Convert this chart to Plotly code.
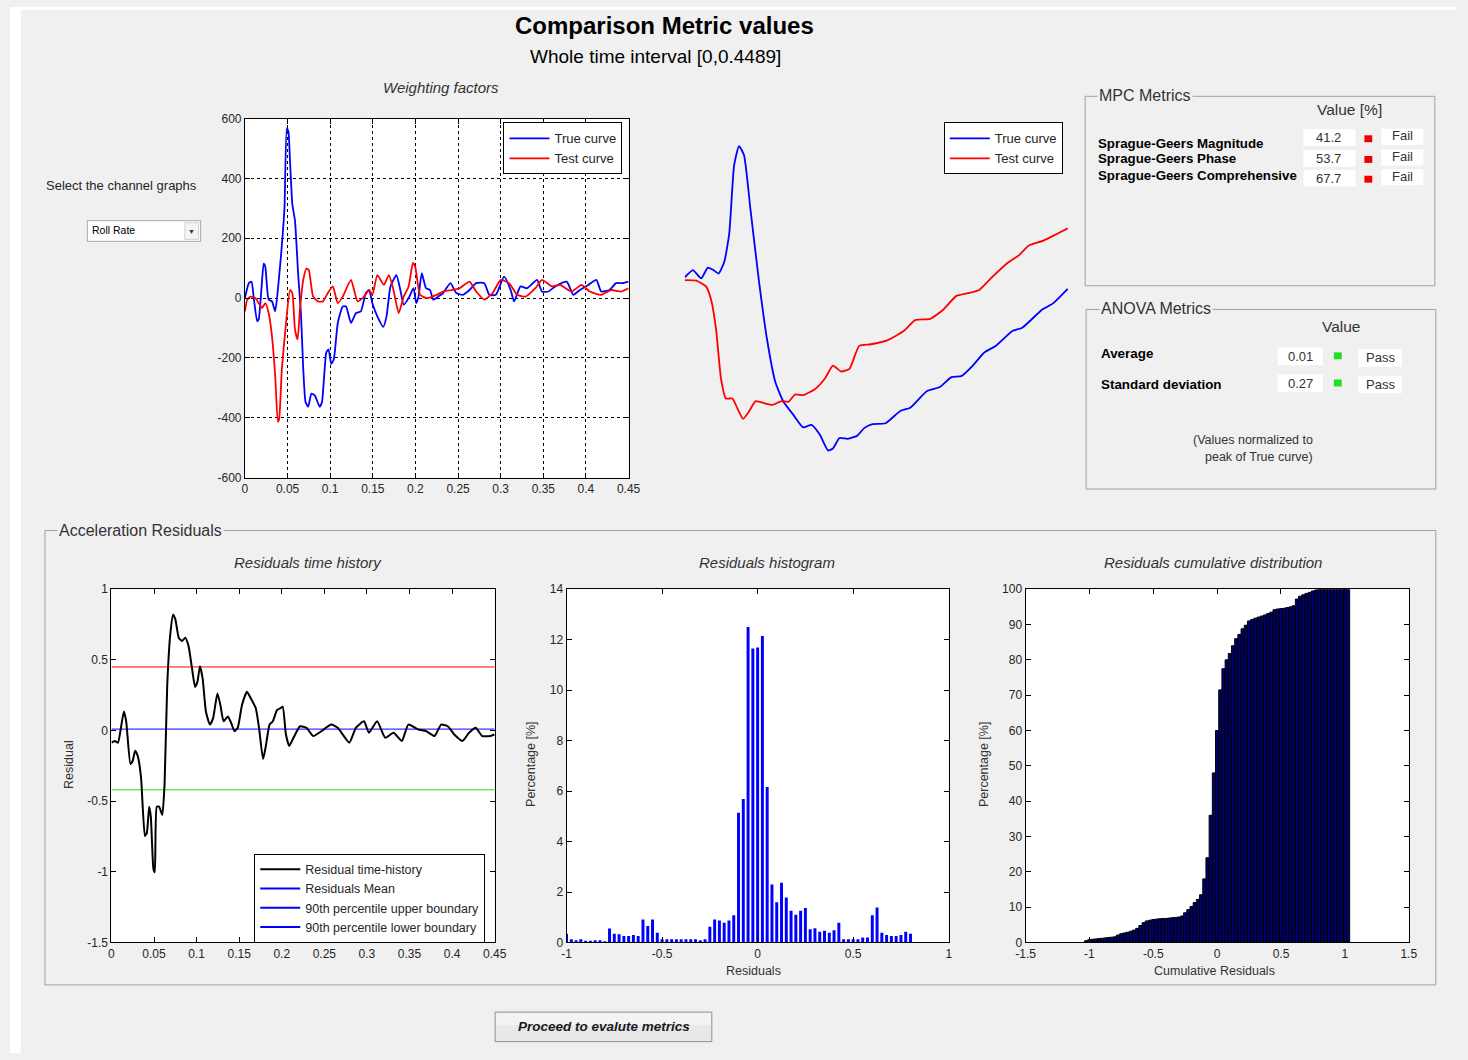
import plotly.graph_objects as go

# ------------------------------------------------------------------ data
# Top-left: Roll rate time histories (Weighting factors)
TRUE_T = [0, 0.0046, 0.0077, 0.0104, 0.0143, 0.0162, 0.0193, 0.022, 0.0239, 0.0278,
          0.0317, 0.0355, 0.0386, 0.0425, 0.0464, 0.0491, 0.051, 0.0529, 0.0556, 0.0587,
          0.0626, 0.0657, 0.0684, 0.0711, 0.0742, 0.078, 0.0819, 0.0877, 0.0904, 0.0954,
          0.0981, 0.1012, 0.1043, 0.1089, 0.1147, 0.1186, 0.1244, 0.1302, 0.136, 0.1418,
          0.1456, 0.1495, 0.1553, 0.1622, 0.1661, 0.1707, 0.1777, 0.1823, 0.1862, 0.192,
          0.1978, 0.2009, 0.2036, 0.2074, 0.2124, 0.2171, 0.2209, 0.2267, 0.2325, 0.241,
          0.248, 0.2557, 0.2634, 0.2712, 0.2808, 0.2866, 0.2943, 0.304, 0.3117, 0.3156,
          0.3233, 0.331, 0.3426, 0.3484, 0.3561, 0.3639, 0.3774, 0.3851, 0.3928, 0.4025,
          0.4122, 0.4179, 0.4276, 0.4353, 0.4431, 0.45]
TRUE_V = [0, 50, 55, 0, -77, -70, 27, 115, 105, -5,
          -11, -44, 27, 148, 302, 567, 556, 457, 314, 259,
          72, -50, -237, -347, -363, -319, -325, -363, -347, -182,
          -171, -220, -204, -83, -28, -28, -83, -50, -44, 17,
          27, -17, -61, -96, -61, 39, 77, 27, -22, 0,
          33, -17, 5, 83, 33, 27, -5, 5, 17, 50,
          17, 11, 27, 50, 50, 11, 11, 72, 27, -11,
          39, 33, 61, 22, 22, 39, 55, 11, 27, 44,
          61, 22, 27, 50, 50, 55]
TEST_T = [0, 0.0027, 0.0066, 0.0124, 0.0162, 0.0201, 0.0239, 0.0278, 0.0317, 0.0355,
          0.0386, 0.0402, 0.0433, 0.0471, 0.0529, 0.0556, 0.0587, 0.0618, 0.0645, 0.0684,
          0.0722, 0.0749, 0.08, 0.0858, 0.0915, 0.0973, 0.1031, 0.1089, 0.1147, 0.1244,
          0.1321, 0.1398, 0.1456, 0.1495, 0.1553, 0.163, 0.1688, 0.1738, 0.1804, 0.1862,
          0.192, 0.197, 0.1997, 0.2055, 0.2132, 0.2248, 0.2325, 0.2422, 0.2519, 0.2634,
          0.2712, 0.2808, 0.2905, 0.3001, 0.3098, 0.3194, 0.3291, 0.3407, 0.3484, 0.36,
          0.3697, 0.3832, 0.3948, 0.4044, 0.4179, 0.4295, 0.4411, 0.45]
TEST_V = [-44, -5, 5, 0, -17, -33, -17, -50, -127, -259,
          -413, -402, -237, -116, 27, 17, -105, -138, -39, 61,
          99, 94, 5, -11, -11, 17, 39, -17, 5, 61,
          -11, 5, 27, 11, 77, 44, 77, 33, -50, 5,
          39, 118, 105, 11, 0, 11, 22, 27, 33, 55,
          22, -5, 17, 61, 50, 11, 5, 33, 61, 39,
          44, 22, 44, 22, 11, 27, 22, 33]

# Top-middle: integrated curves (normalised to peak of True curve)
INT_TRUE_T = [0, 0.0096, 0.0193, 0.027, 0.0327, 0.0397, 0.0463, 0.0521, 0.0579, 0.0636,
              0.0694, 0.0772, 0.0868, 0.0964, 0.1061, 0.1157, 0.1273, 0.1388, 0.1485, 0.1582,
              0.1678, 0.1736, 0.1813, 0.1909, 0.2025, 0.2102, 0.2198, 0.2352, 0.2526, 0.2641,
              0.2835, 0.2989, 0.3124, 0.324, 0.3375, 0.3509, 0.3645, 0.3838, 0.3954, 0.4185,
              0.4319, 0.4486]
INT_TRUE_V = [0.007, 0.062, 0.0, 0.082, 0.067, 0.037, 0.125, 0.336, 0.858, 1.0,
              0.933, 0.51, -0.013, -0.46, -0.784, -0.933, -1.032, -1.127, -1.107, -1.181,
              -1.301, -1.286, -1.207, -1.214, -1.187, -1.132, -1.102, -1.095, -1.002, -0.978,
              -0.853, -0.821, -0.746, -0.739, -0.659, -0.56, -0.51, -0.398, -0.373, -0.237,
              -0.187, -0.08]
INT_TEST_T = [0, 0.0135, 0.0251, 0.0309, 0.0367, 0.0425, 0.0482, 0.0559, 0.0617, 0.0683,
              0.0752, 0.083, 0.0945, 0.1022, 0.1137, 0.1215, 0.1292, 0.1388, 0.1524, 0.164,
              0.1736, 0.1832, 0.1929, 0.2044, 0.2179, 0.2372, 0.2565, 0.2699, 0.2873, 0.3028,
              0.3182, 0.3317, 0.3451, 0.3606, 0.378, 0.3914, 0.403, 0.4203, 0.4358, 0.4486]
INT_TEST_V = [-0.013, -0.017, -0.062, -0.162, -0.386, -0.759, -0.908, -0.908, -0.983, -1.062,
              -1.007, -0.928, -0.946, -0.957, -0.928, -0.933, -0.878, -0.883, -0.838, -0.759,
              -0.659, -0.704, -0.684, -0.51, -0.498, -0.468, -0.398, -0.316, -0.306, -0.237,
              -0.132, -0.112, -0.087, 0.013, 0.117, 0.174, 0.249, 0.286, 0.336, 0.378]

# Residual time history
RES_T = [0, 0.0039, 0.0077, 0.0108, 0.0146, 0.0173, 0.0223, 0.025, 0.0277, 0.0308,
         0.0347, 0.0393, 0.0416, 0.0443, 0.0462, 0.0493, 0.0509, 0.0532, 0.0559, 0.0597,
         0.0624, 0.0655, 0.0693, 0.0724, 0.0751, 0.079, 0.0828, 0.0867, 0.0905, 0.0944,
         0.0982, 0.1009, 0.104, 0.1071, 0.1109, 0.1156, 0.1194, 0.1244, 0.1279, 0.1317,
         0.1367, 0.1406, 0.1445, 0.1483, 0.1533, 0.1591, 0.1637, 0.1695, 0.1733, 0.178,
         0.181, 0.1857, 0.1895, 0.1945, 0.1984, 0.2011, 0.2049, 0.2088, 0.2138, 0.2215,
         0.2292, 0.2369, 0.2465, 0.2581, 0.2658, 0.2793, 0.287, 0.2966, 0.3024, 0.312,
         0.3216, 0.3313, 0.341, 0.3487, 0.3602, 0.3698, 0.3794, 0.3872, 0.3949, 0.4026,
         0.4122, 0.42, 0.4277, 0.4354, 0.445, 0.45]
RES_V = [-0.086, -0.074, -0.086, 0.007, 0.135, 0.065, -0.237, -0.214, -0.144, -0.179,
         -0.33, -0.747, -0.724, -0.539, -0.608, -0.98, -1.003, -0.539, -0.539, -0.597,
         -0.376, 0.32, 0.694, 0.819, 0.786, 0.657, 0.634, 0.657, 0.599, 0.448,
         0.309, 0.344, 0.455, 0.367, 0.135, 0.042, 0.088, 0.262, 0.181, 0.065,
         0.1, 0.053, -0.005, 0.019, 0.181, 0.274, 0.227, 0.158, 0.019, -0.202,
         -0.121, 0.042, 0.065, 0.146, 0.158, 0.169, -0.028, -0.109, -0.051, 0.03,
         0.019, -0.039, -0.005, 0.042, 0.019, -0.086, 0.019, 0.065, -0.016, 0.065,
         -0.051, -0.016, -0.074, 0.042, 0.007, -0.005, -0.039, 0.042, 0.03, -0.028,
         -0.074, -0.016, 0.019, -0.039, -0.039, -0.028]
RES_MEAN = 0.01
RES_UPPER = 0.45
RES_LOWER = -0.42
TIME_END = 0.45

# Residual histogram (bins of 0.025 starting at -1)
HIST_START, HIST_STEP = -1.0, 0.025
HIST_PCT = [0.35, 0.13, 0.09, 0.13, 0.07, 0.07, 0.09, 0.09, 0.04, 0.55,
            0.35, 0.33, 0.26, 0.26, 0.3, 0.26, 0.91, 0.65, 0.91, 0.39,
            0.13, 0.13, 0.13, 0.13, 0.13, 0.13, 0.13, 0.13, 0.09, 0.13,
            0.62, 0.91, 0.87, 0.78, 0.87, 1.08, 5.14, 5.69, 12.5, 11.65,
            11.69, 12.15, 6.16, 2.3, 1.59, 2.37, 1.78, 1.26, 1.1, 1.26,
            1.37, 0.52, 0.56, 0.43, 0.46, 0.39, 0.48, 0.78, 0.13, 0.13,
            0.13, 0.13, 0.2, 0.2, 1.08, 1.39, 0.39, 0.3, 0.26, 0.26,
            0.3, 0.43, 0.35]

# Residual cumulative distribution (bins of 0.025 starting at -1.025)
CUM_START, CUM_STEP = -1.025, 0.025
CUM_PCT = [0.5, 0.8, 0.9, 1.0, 1.1, 1.2, 1.3, 1.4, 1.5, 1.6,
           2.1, 2.5, 2.7, 2.9, 3.2, 3.5, 4.0, 4.8, 5.6, 6.1,
           6.3, 6.5, 6.6, 6.7, 6.8, 6.8, 6.9, 7.0, 7.1, 7.2,
           7.5, 8.4, 9.3, 10.2, 11.3, 12.2, 13.5, 18.0, 24.0, 36.0,
           48.0, 60.0, 71.5, 77.5, 80.0, 81.8, 84.0, 86.0, 87.2, 88.8,
           89.8, 91.0, 91.4, 91.8, 92.1, 92.4, 92.7, 93.1, 93.5, 94.2,
           94.4, 94.5, 94.6, 94.8, 95.0, 95.3, 97.2, 98.0, 98.4, 98.8,
           99.1, 99.5, 99.8, 100, 100, 100, 100, 100, 100, 100,
           100, 100, 100]

# Metric tables
MPC_NAMES = ["Sprague-Geers Magnitude", "Sprague-Geers Phase", "Sprague-Geers Comprehensive"]
MPC_VALUES = ["41.2", "53.7", "67.7"]
MPC_STATUS = ["Fail", "Fail", "Fail"]
ANOVA_NAMES = ["Average", "Standard deviation"]
ANOVA_VALUES = ["0.01", "0.27"]
ANOVA_STATUS = ["Pass", "Pass"]

# Tick labels
T_TICKS = [0, 0.05, 0.1, 0.15, 0.2, 0.25, 0.3, 0.35, 0.4, 0.45]
RATE_TICKS = [-600, -400, -200, 0, 200, 400, 600]
RES_TICKS = [-1.5, -1, -0.5, 0, 0.5, 1]
HIST_XTICKS = [-1, -0.5, 0, 0.5, 1]
HIST_YTICKS = [0, 2, 4, 6, 8, 10, 12, 14]
CUM_XTICKS = [-1.5, -1, -0.5, 0, 0.5, 1, 1.5]
CUM_YTICKS = [0, 10, 20, 30, 40, 50, 60, 70, 80, 90, 100]

# ------------------------------------------------------------------ helpers
W, H = 1468, 1060
FONT = "Liberation Sans, Arial, Helvetica, sans-serif"
TICKC = "#262626"
BG = "#f0f0f0"
PANEL = "#a0a0a0"


def PX(p):
    return p / W


def PY(p):
    return 1 - p / H


def axis(dom, rng, vals, anchor, grid=False):
    d = dict(domain=dom, range=rng, tickvals=vals, ticktext=[f"{v:g}" for v in vals],
             showline=True, linecolor="black", linewidth=1, mirror="ticks",
             ticks="inside", ticklen=5, tickcolor="black",
             tickfont=dict(family=FONT, size=12, color=TICKC),
             zeroline=False, showgrid=grid, anchor=anchor, fixedrange=True)
    if grid:
        d.update(gridcolor="black", griddash="dot", gridwidth=1)
    return d


fig = go.Figure()

SMOOTH = dict(shape="spline", smoothing=0.5)

# ------------------------------------------------------------------ traces
fig.add_trace(go.Scatter(x=TRUE_T, y=TRUE_V, mode="lines", name="True curve",
                         line=dict(color="#0000ff", width=1.8, **SMOOTH), xaxis="x", yaxis="y", legend="legend"))
fig.add_trace(go.Scatter(x=TEST_T, y=TEST_V, mode="lines", name="Test curve",
                         line=dict(color="#ff0000", width=1.8, **SMOOTH), xaxis="x", yaxis="y", legend="legend"))

fig.add_trace(go.Scatter(x=INT_TRUE_T, y=INT_TRUE_V, mode="lines", name="True curve",
                         line=dict(color="#0000ff", width=1.8, **SMOOTH), xaxis="x2", yaxis="y2", legend="legend2"))
fig.add_trace(go.Scatter(x=INT_TEST_T, y=INT_TEST_V, mode="lines", name="Test curve",
                         line=dict(color="#ff0000", width=1.8, **SMOOTH), xaxis="x2", yaxis="y2", legend="legend2"))

fig.add_trace(go.Scatter(x=[0, TIME_END], y=[RES_UPPER, RES_UPPER], mode="lines", showlegend=False,
                         line=dict(color="#ff0000", width=1), xaxis="x3", yaxis="y3"))
fig.add_trace(go.Scatter(x=[0, TIME_END], y=[RES_MEAN, RES_MEAN], mode="lines", showlegend=False,
                         line=dict(color="#0000ff", width=1), xaxis="x3", yaxis="y3"))
fig.add_trace(go.Scatter(x=[0, TIME_END], y=[RES_LOWER, RES_LOWER], mode="lines", showlegend=False,
                         line=dict(color="#22dd22", width=1), xaxis="x3", yaxis="y3"))
fig.add_trace(go.Scatter(x=RES_T, y=RES_V, mode="lines", name="Residual time-history",
                         line=dict(color="black", width=2, **SMOOTH), xaxis="x3", yaxis="y3", legend="legend3"))
for nm in ["Residuals Mean", "90th percentile upper boundary", "90th percentile lower boundary"]:
    fig.add_trace(go.Scatter(x=[None], y=[None], mode="lines", name=nm,
                             line=dict(color="#0000ff", width=2), xaxis="x3", yaxis="y3", legend="legend3"))

hist_x = [round(HIST_START + i * HIST_STEP, 4) for i in range(len(HIST_PCT))]
fig.add_trace(go.Bar(x=hist_x, y=HIST_PCT, width=HIST_STEP * 0.62, showlegend=False,
                     marker=dict(color="#0000ff", line=dict(width=0)), xaxis="x4", yaxis="y4"))

cum_x = [round(CUM_START + i * CUM_STEP, 4) for i in range(len(CUM_PCT))]
fig.add_trace(go.Bar(x=cum_x, y=CUM_PCT, width=CUM_STEP, showlegend=False,
                     marker=dict(color="#00006e", line=dict(color="black", width=1)),
                     xaxis="x5", yaxis="y5"))

# ------------------------------------------------------------------ axes
PLOT_Y_TOP = [PY(477), PY(113)]
PLOT_Y_BOT = [PY(948), PY(590)]
layout_axes = dict(
    xaxis=axis([PX(238.5), PX(628)], [0, 0.45], T_TICKS, "y", grid=True),
    yaxis=axis(PLOT_Y_TOP, [-600, 600], RATE_TICKS, "x", grid=True),
    xaxis2=dict(domain=[PX(685), PX(1075)], range=[0, 0.45], visible=False, anchor="y2", fixedrange=True),
    yaxis2=dict(domain=PLOT_Y_TOP, range=[-1.507, 1.209], visible=False, anchor="x2", fixedrange=True),
    xaxis3=axis([PX(103), PX(492)], [0, 0.45], T_TICKS, "y3"),
    yaxis3=axis(PLOT_Y_BOT, [-1.5, 1], RES_TICKS, "x3"),
    xaxis4=axis([PX(565), PX(953)], [-1, 1], HIST_XTICKS, "y4"),
    yaxis4=axis(PLOT_Y_BOT, [0, 14], HIST_YTICKS, "x4"),
    xaxis5=axis([PX(1031), PX(1420)], [-1.5, 1.5], CUM_XTICKS, "y5"),
    yaxis5=axis(PLOT_Y_BOT, [0, 100], CUM_YTICKS, "x5"),
)

# ------------------------------------------------------------------ shapes
shapes = []
# white margins of the screenshot
shapes.append(dict(type="rect", xref="paper", yref="paper", x0=0, x1=PX(11), y0=0, y1=1,
                   fillcolor="white", line_width=0, layer="below"))
shapes.append(dict(type="rect", xref="paper", yref="paper", x0=0, x1=1, y0=PY(3), y1=1,
                   fillcolor="white", line_width=0, layer="below"))
# white plotting areas
for xa, ya in [("x", "y"), ("x3", "y3"), ("x4", "y4"), ("x5", "y5")]:
    shapes.append(dict(type="rect", xref=f"{xa} domain", yref=f"{ya} domain", x0=0, x1=1, y0=0, y1=1,
                       fillcolor="white", line_width=0, layer="below"))


def prect(x0, y0, x1, y1, fill=None, line=None, lw=1):
    shapes.append(dict(type="rect", xref="paper", yref="paper", x0=PX(x0), x1=PX(x1), y0=PY(y1), y1=PY(y0),
                       fillcolor=fill if fill else "rgba(0,0,0,0)",
                       line=dict(color=line if line else "rgba(0,0,0,0)", width=lw if line else 0),
                       layer="below"))


# panels
prect(1091.5, 90.5, 1446.5, 282.5, line=PANEL)
prect(1092.5, 306.5, 1447.5, 488.5, line=PANEL)
prect(35.5, 530.5, 1447.5, 991, line=PANEL)

# MPC table cells
mpc_rows = [(124, 141), (145, 162), (165, 182)]
for (a, b) in mpc_rows:
    prect(1313, a, 1366, b, fill="white")
    prect(1392, a - 0.5, 1435, b - 1.5, fill="white")
    prect(1375, a + 6, 1383, a + 13, fill="#ee0000")
# ANOVA table cells
anova_rows = [(345, 363), (372.5, 390)]
for (a, b) in anova_rows:
    prect(1287, a, 1333, b, fill="white")
    prect(1369, a + 1.5, 1413, b + 1.5, fill="white")
    prect(1344, a + 5, 1352, a + 12, fill="#22dd22")

# dropdown
prect(78.5, 216.5, 193.5, 237.5, fill="white", line="#a8a8a8")
prect(177.5, 218.5, 191.5, 235.5, fill="#f4f4f4", line="#d0d0d0")
# button
prect(492.5, 1018.5, 712.5, 1048.5, fill="#e8e8e8", line="#8f8f8f")
prect(493.5, 1019.5, 711.5, 1032, fill="#f3f3f3")

# ------------------------------------------------------------------ annotations
ann = []


def text(x, y, s, size=13, color="#1a1a1a", xanchor="center", bold=False, italic=False,
         angle=0, bg=None):
    if bold:
        s = f"<b>{s}</b>"
    if italic:
        s = f"<i>{s}</i>"
    d = dict(x=PX(x), y=PY(y), xref="paper", yref="paper", text=s, showarrow=False,
             xanchor=xanchor, yanchor="middle", textangle=angle,
             font=dict(family=FONT, size=size, color=color))
    if bg:
        d.update(bgcolor=bg, borderpad=1)
    ann.append(d)


text(664, 19, "Comparison Metric values", size=24, color="black", bold=True)
text(655, 50, "Whole time interval [0,0.4489]", size=19, color="black")
text(438, 82, "Weighting factors", size=15, color="#333333", italic=True)
text(113, 181, "Select the channel graphs", size=13, color="#262626")
text(81, 226, "Roll Rate", size=10.5, color="black", xanchor="left")
text(184.5, 227, "▼", size=7, color="#333333")

# panel titles
text(1104, 90, "MPC Metrics", size=16, color="#333333", xanchor="left", bg=BG)
text(1106, 306, "ANOVA Metrics", size=16, color="#333333", xanchor="left", bg=BG)
text(48, 531, "Acceleration Residuals", size=16, color="#333333", xanchor="left", bg=BG)

# MPC table
text(1359.5, 104, "Value [%]", size=15.5, color="#333333")
for nm, yy in zip(MPC_NAMES, [138, 154, 171]):
    text(1103, yy, nm, size=13.3, color="black", xanchor="left", bold=True)
for v, st, (a, b) in zip(MPC_VALUES, MPC_STATUS, mpc_rows):
    text(1339, (a + b) / 2, v, size=13, color="#333333")
    text(1414, (a + b) / 2 - 2, st, size=13, color="#333333")

# ANOVA table
text(1352, 324, "Value", size=15.5, color="#333333")
for nm, yy in zip(ANOVA_NAMES, [351, 383]):
    text(1106, yy, nm, size=13.4, color="black", xanchor="left", bold=True)
for v, st, (a, b) in zip(ANOVA_VALUES, ANOVA_STATUS, anova_rows):
    text(1310, (a + b) / 2, v, size=13, color="#333333")
    text(1391, (a + b) / 2 + 1.5, st, size=13, color="#333333")
text(1261.5, 439, "(Values normalized to", size=12.5, color="#333333")
text(1268.5, 456, "peak of True curve)", size=12.5, color="#333333")

# residual plot titles & axis labels
text(303, 563, "Residuals time history", size=15, color="#333333", italic=True)
text(769, 563, "Residuals histogram", size=15, color="#333333", italic=True)
text(1221, 563, "Residuals cumulative distribution", size=15, color="#333333", italic=True)
text(60, 768, "Residual", size=12.5, color="#333333", angle=-90)
text(529, 768, "Percentage [%]", size=12.5, color="#333333", angle=-90)
text(989, 768, "Percentage [%]", size=12.5, color="#333333", angle=-90)
text(755, 977, "Residuals", size=12.5, color="#333333")
text(1223, 977, "Cumulative Residuals", size=12.5, color="#333333")

# button
text(603, 1033, "Proceed to evalute metrics", size=13.5, color="#1a1a1a", bold=True, italic=True)

# ------------------------------------------------------------------ legends
def legend_at(x, y, size=13):
    return dict(x=PX(x), y=PY(y), xanchor="left", yanchor="top", bgcolor="white",
                bordercolor="black", borderwidth=1, itemwidth=40, tracegroupgap=0,
                traceorder="normal", font=dict(family=FONT, size=size, color=TICKC))


fig.update_layout(
    width=W, height=H, autosize=False,
    margin=dict(l=0, r=0, t=0, b=0, pad=0),
    paper_bgcolor=BG, plot_bgcolor="rgba(0,0,0,0)",
    font=dict(family=FONT, size=12, color=TICKC),
    showlegend=True,
    legend=legend_at(501, 117),
    legend2=legend_at(948, 117),
    legend3=legend_at(248, 858, size=12.5),
    shapes=shapes, annotations=ann,
    **layout_axes,
)

fig.write_html(
    "out.html",
    config={"displayModeBar": False},
    post_script="document.body.style.margin='0px';document.body.style.overflow='hidden';",
)
